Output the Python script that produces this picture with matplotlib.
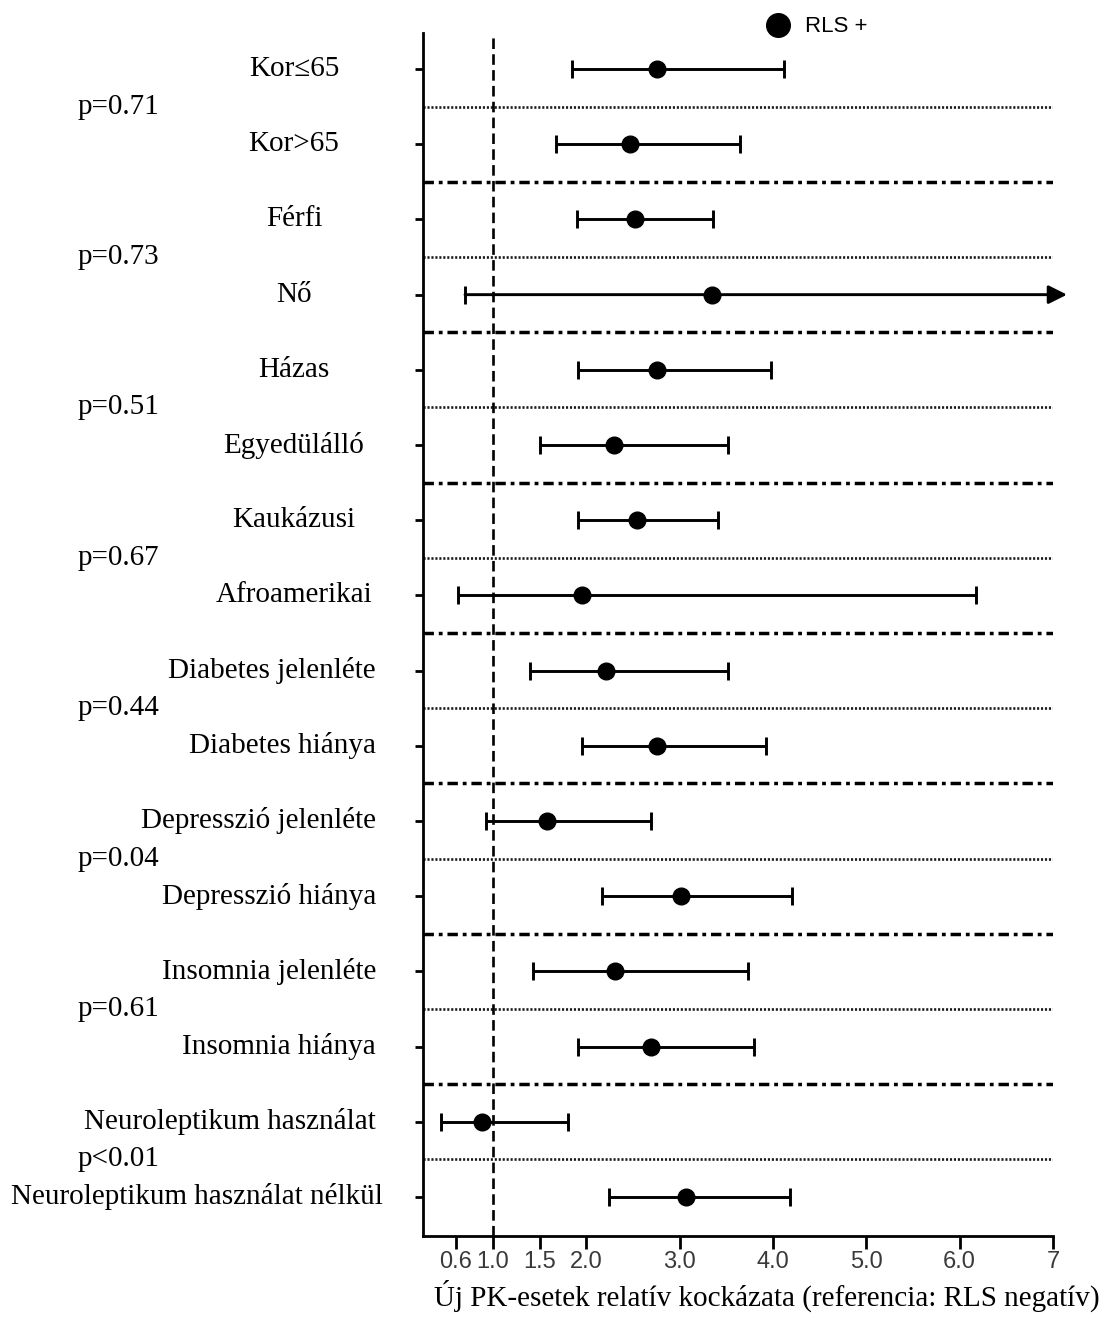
import matplotlib
matplotlib.use("Agg")
import matplotlib.pyplot as plt
import matplotlib.transforms as mtransforms
from matplotlib.lines import Line2D
import numpy as np

# subgroup rows, top to bottom
labels = ["Kor≤65", "Kor>65", "Férfi", "Nő", "Házas", "Egyedülálló",
          "Kaukázusi", "Afroamerikai", "Diabetes jelenléte", "Diabetes hiánya",
          "Depresszió jelenléte", "Depresszió hiánya", "Insomnia jelenléte",
          "Insomnia hiánya", "Neuroleptikum használat",
          "Neuroleptikum használat nélkül"]
rr = [2.76, 2.47, 2.52, 3.35, 2.76, 2.30, 2.54, 1.95, 2.21, 2.76,
      1.58, 3.01, 2.31, 2.69, 0.88, 3.07]
ci_lo = [1.85, 1.68, 1.90, 0.70, 1.91, 1.50, 1.91, 0.62, 1.40, 1.95,
         0.92, 2.17, 1.43, 1.91, 0.44, 2.24]
ci_hi = [4.12, 3.65, 3.36, np.inf, 3.98, 3.52, 3.41, 6.18, 3.52, 3.93,
         2.69, 4.20, 3.73, 3.80, 1.80, 4.18]
p_values = ["p=0.71", "p=0.73", "p=0.51", "p=0.67", "p=0.44", "p=0.04",
            "p=0.61", "p<0.01"]

xticks = [0.6, 1.0, 1.5, 2.0, 3.0, 4.0, 5.0, 6.0, 7.0]
xticklabels = ["0.6", "1.0", "1.5", "2.0", "3.0", "4.0", "5.0", "6.0", "7"]
xlabel = "Új PK-esetek relatív kockázata (referencia: RLS negatív)"

W, H = 1106, 1322
fig = plt.figure(figsize=(W / 100, H / 100), dpi=100)
ax = fig.add_axes([423 / W, 86 / H, (1053 - 423) / W, (1289 - 86) / H])
serif = ["Liberation Serif", "DejaVu Serif"]

n = len(labels)
y = np.arange(n)
xmin, xmax = 0.25, 7.0
ax.set_xlim(xmin, xmax)
ax.set_ylim(n - 0.48, -0.48)

# separators: dotted inside a pair, dash-dot between pairs
for k in range(n // 2):
    ax.axhline(2 * k + 0.5, color="#1a1a1a", lw=1.9, ls=(0, (0.8, 0.7)), zorder=1)
    if k < n // 2 - 1:
        ax.axhline(2 * k + 1.5, color="black", lw=2.5,
                   ls=(0, (3.0, 1.4, 1.1, 1.4)), zorder=1)

ax.axvline(1.0, color="black", lw=1.9, ls=(0, (4, 2)), zorder=2)

rr_a = np.array(rr)
lo_a = np.array(ci_lo)
hi_a = np.array(ci_hi)
closed = np.isfinite(hi_a)
ax.errorbar(rr_a[closed], y[closed],
            xerr=[rr_a[closed] - lo_a[closed], hi_a[closed] - rr_a[closed]],
            fmt="o", color="black", ms=12, elinewidth=2.1, capsize=6.5,
            capthick=2.1, zorder=4)

# open-ended interval: lower cap plus arrow past the axis end
for i in np.where(~closed)[0]:
    ax.plot([lo_a[i]], [y[i]], marker="|", ms=13, mew=2.1, color="black", zorder=4)
    ax.annotate("", xy=(xmax + 0.15, y[i]), xytext=(lo_a[i], y[i]),
                arrowprops=dict(arrowstyle="-|>", lw=2.1, color="black",
                                mutation_scale=28, shrinkA=0, shrinkB=0),
                annotation_clip=False, zorder=4)
    ax.plot([rr_a[i]], [y[i]], "o", color="black", ms=12, zorder=5)

for s in ["top", "right"]:
    ax.spines[s].set_visible(False)
for s in ["left", "bottom"]:
    ax.spines[s].set_linewidth(2.0)

ax.set_yticks(y)
ax.set_yticklabels([])
ax.tick_params(axis="y", length=6, width=2.0, direction="out")
ax.set_xticks(xticks)
ax.set_xticklabels(xticklabels, fontfamily="Liberation Sans", fontsize=17,
                   color="#3a3a3a")
ax.tick_params(axis="x", length=9, width=2.0, direction="out", pad=2)

# row labels: centred in the left margin, pushed right-aligned if too wide
trans = mtransforms.blended_transform_factory(fig.transFigure, ax.transData)
fig.canvas.draw()
renderer = fig.canvas.get_renderer()
for yi, lab in zip(y, labels):
    t = ax.text(294 / W, yi, lab, transform=trans, ha="center", va="center",
                fontsize=21, family=serif)
    bb = t.get_window_extent(renderer)
    if bb.x1 > 376:
        if bb.width > 360:
            t.set_x(11 / W)
            t.set_ha("left")
        else:
            t.set_x(376 / W)
            t.set_ha("right")

for k, p in enumerate(p_values):
    ax.text(78 / W, 2 * k + 0.5, p, transform=trans, ha="left", va="center",
            fontsize=21, family=serif)

fig.text(1100 / W, 1 - 1296 / H, xlabel, ha="right", va="center",
         fontsize=21, family=serif)

handle = Line2D([], [], marker="o", ls="", color="black", ms=17)
ax.legend([handle], ["RLS +"], loc="center left", frameon=False,
          bbox_to_anchor=(745 / W, 1 - 27 / H), bbox_transform=fig.transFigure,
          handletextpad=0.2, borderpad=0,
          prop={"family": "Liberation Sans", "size": 16})

fig.savefig("out.png", dpi=100)
